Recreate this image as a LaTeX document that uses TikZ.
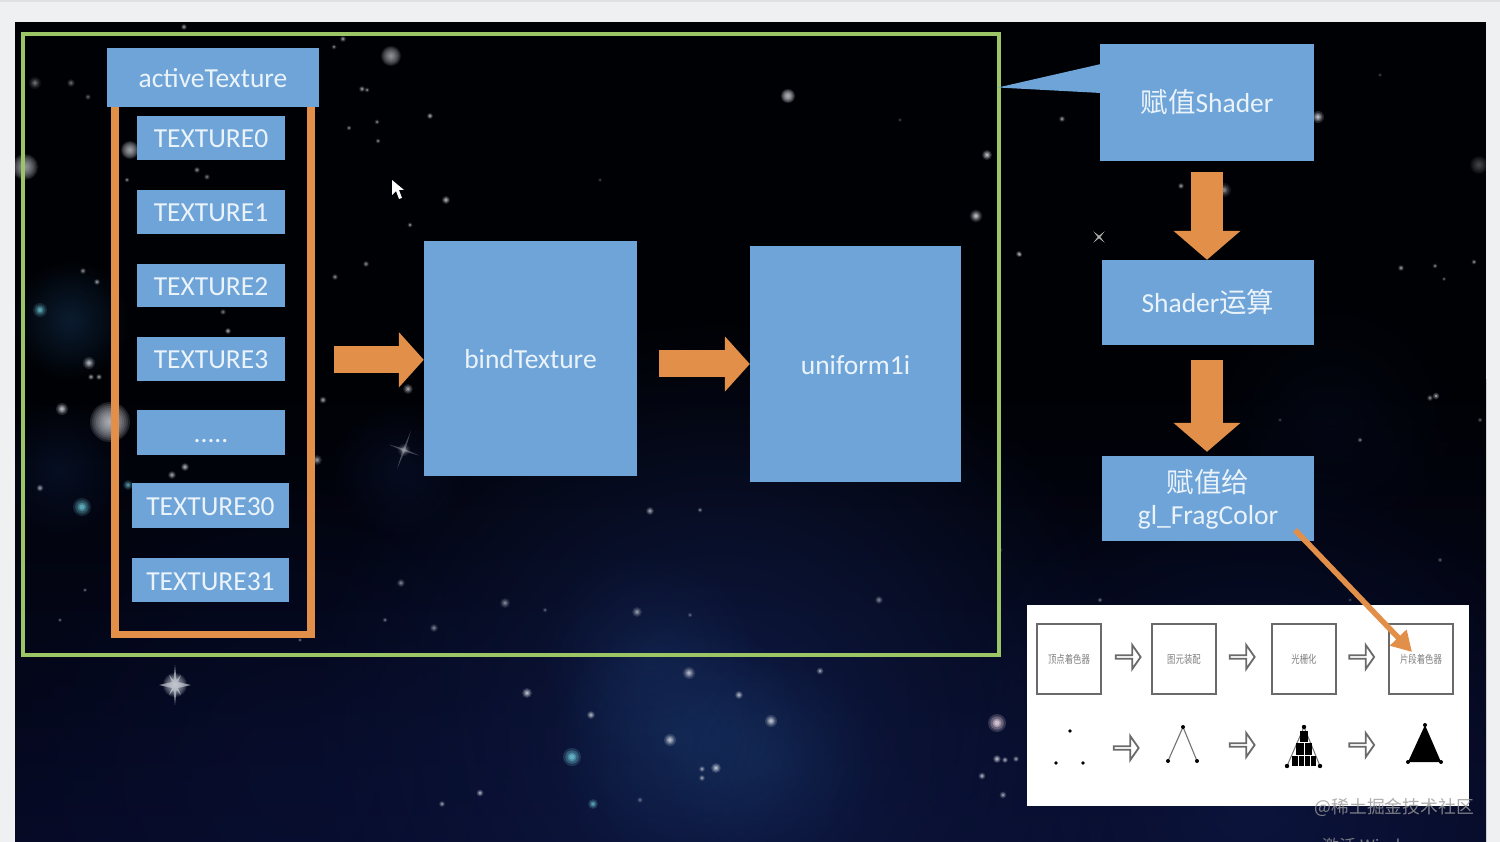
\documentclass[tikz,border=0pt]{standalone}
\usepackage{fontspec}
\setmainfont{Carlito}
\newfontfamily\cjk{Noto Sans CJK SC}
\usetikzlibrary{arrows.meta,shapes.arrows,fadings,calc}
\definecolor{boxblue}{HTML}{6FA4D8}
\definecolor{orangeA}{HTML}{E28F4A}
\definecolor{frameG}{HTML}{9CC665}
\definecolor{pagebg}{HTML}{EEF0F1}
\definecolor{txtW}{HTML}{EAF3FA}
\definecolor{spaceA}{HTML}{000104}
\definecolor{spaceB}{HTML}{060A26}
\definecolor{graybox}{HTML}{6A6A6A}
\definecolor{teal}{HTML}{6FC8D8}
\definecolor{pinkS}{HTML}{F0D8E8}
\definecolor{greyS}{HTML}{D8DCE4}
\tikzfading[name=softcirc,inner color=transparent!0,outer color=transparent!100]
\tikzset{
  bluebox/.style={fill=boxblue,draw=none,text=txtW,inner sep=0pt,align=center,font=\fontsize{27.5}{33}\selectfont},
  onebox/.style={bluebox,text height=20pt,text depth=0pt},
  fatH/.style={draw=orangeA,line width=27pt,-{Triangle[length=25pt,width=54pt]}},
  fatV/.style={draw=orangeA,line width=32pt,-{Triangle[length=29pt,width=65.5pt]}},
  smallbox/.style={draw=graybox,line width=1.7pt,fill=white,minimum width=64pt,minimum height=70pt,inner sep=0pt,text=black!50,font=\cjk\fontsize{10.5}{12}\selectfont},
  hollow/.style={single arrow,draw=graybox,fill=white,line width=1.8pt,minimum height=25pt,minimum width=24pt,single arrow head extend=5pt,inner sep=0pt,single arrow head indent=0pt,single arrow tip angle=110},
  glow/.style={path fading=softcirc},
}
\newcommand{\boxat}[6]{\node[#1,minimum width=#4pt-#2pt,minimum height=#5pt-#3pt] (#6) at ({(#2+#4)/2},{(#3+#5)/2})}
\newcommand{\smalltxt}[2]{\raisebox{-1.5pt}{\scalebox{#1}[1.05]{#2}}}
\newcommand{\softstar}[5]{%
  \pgfmathsetmacro{\oa}{0.18*#4}\pgfmathsetmacro{\ob}{0.28*#4}\pgfmathsetmacro{\oc}{0.4*#4}\pgfmathsetmacro{\od}{0.6*#4}%
  \fill[#5,opacity=\oa] (#1,#2) circle (#3);
  \fill[#5,opacity=\ob] (#1,#2) circle (0.75*#3);
  \fill[#5,opacity=\oc] (#1,#2) circle (0.5*#3);
  \fill[#5,opacity=\od] (#1,#2) circle (0.3*#3);}
\newcommand{\blurstar}[4]{%
  \pgfmathsetmacro{\ok}{0.1*#4}%
  \foreach \k in {1,...,10}{\fill[greyS,opacity=\ok] (#1,#2) circle (#3*\k/10);}}
\begin{document}
\begin{tikzpicture}[x=1pt,y=-1pt]
\useasboundingbox (0,0) rectangle (1500,842);
\fill[pagebg] (0,0) rectangle (1500,842);
\fill[black!12] (0,0) rectangle (1500,2);
% space background
\begin{scope}
\clip (15,22) rectangle (1486,842);
\fill[spaceA] (15,22) rectangle (1486,842);
\shade[top color=spaceA,bottom color=spaceB] (15,380) rectangle (1486,842);
\foreach \x/\y/\r/\c/\o in {
  720/730/420/16265E/.6, 1250/800/340/101B4C/.6, 300/780/300/0C1540/.4,
  680/740/130/1E4C7C/.28, 770/760/110/1E4C7C/.22, 650/660/110/1C3A70/.25,
  70/320/60/1B4470/.4, 60/470/70/10244E/.35, 400/470/70/0E1A40/.4, 1330/420/130/0A1230/.3}{
  \definecolor{tmpc}{HTML}{\c}
  \fill[tmpc,opacity=\o,glow] (\x,\y) circle (\r);
}
% blurred stars
\blurstar{110}{422}{20}{1.4}
\blurstar{25}{167}{13}{1.1}
\blurstar{391}{56}{10}{1.0}
\blurstar{130}{150}{9}{1.2}
\blurstar{788}{96}{7}{1.5}
\blurstar{1479}{165}{9}{.4}
% soft stars
\foreach \x/\y/\r/\o in {987/155/5/.9,976/216/6/.9,
  1318/117/6/.9,62/409/6/.9,89/363/6/.8,91/377/3/.7,99/377/3/.7,
  1224/190/7/.5,1181/186/3/.7,1062/119/3/.7,1019/254/3/.8,1401/268/3/.7,1435/266/2.5/.6,1474/262/2.5/.7,1444/279/2/.5,
  430/116/3/.8,446/200/4/.8,650/511/4/.7,1436/396/3.5/.7,1430/398/3/.6,
  408/389/5/.7,323/400/3.5/.7,317/460/5/.6,185/467/4/.8,172/475/4/.7,40/488/3.5/.7,
  223/312/3/.5,228/331/3/.8,83/271/3/.6,97/282/3/.7,366/264/3/.6,335/277/3/.6,
  184/27/3/.7,343/39/3/.7,334/47/2.5/.6,362/89/3/.7,367/90/2.5/.6,377/122/2.5/.6,349/128/2.5/.6,378/141/2.5/.6,410/225/2.5/.7,
  35/83/6/.4,71/83/4/.4,88/97/3/.4,197/170/3/.6,207/177/3/.5,127/180/2.5/.6,
  527/693/5/.9,689/673/6/.8,739/695/4/.8,591/715/4/.8,771/721/6/.9,670/740/6/.9,716/768/5/.9,702/769/3/.7,702/778/3/.7,
  997/759/4/.9,1005/760/3/.8,1016/759/3/.7,982/776/3.5/.8,1003/795/3.5/.7,480/793/3.5/.8,442/804/3/.7,
  434/628/4/.5,401/583/4/.5,505/603/5/.5,637/612/5/.6,820/671/3.5/.7,879/600/4/.5,
  700/510/2.5/.6,545/610/2.5/.4,690/615/2.5/.4,1000/550/2.5/.5,385/620/2.5/.5,
  600/180/2/.3,900/120/2/.3,1380/75/2/.3,1360/440/2.5/.6,1440/560/2.5/.4,1480/420/2.5/.4,1020/255/2/.4,
  1100/600/2.5/.5,1350/600/2/.3,1280/420/2/.3,640/800/3/.4,300/640/2/.5,250/655/2/.4,60/620/2/.5,85/590/2/.5}{
  \softstar{\x}{\y}{\r}{\o}{greyS}
}
\softstar{40}{310}{7}{.8}{teal}
\softstar{82}{507}{9}{.9}{teal}
\softstar{128}{485}{5}{.7}{teal}
\softstar{572}{757}{9}{1}{teal}
\softstar{593}{804}{5}{.8}{teal}
\softstar{997}{723}{9}{1}{pinkS}
% sparkle stars
\blurstar{175}{685}{12}{1.3}
\fill[greyS,opacity=.6] (175,665)--(176.5,680)--(181,675)--(178,682)--(191,685)--(178,688)--(181,695)--(176.5,690)--(175,705)--(173.5,690)--(169,695)--(172,688)--(159,685)--(172,682)--(169,675)--(173.5,680)--cycle;
\begin{scope}[rotate around={-20:(404,450)}]
\fill[greyS,opacity=.3] (404,430)--(405.2,448.8)--(420,450)--(405.2,451.2)--(404,470)--(402.8,451.2)--(388,450)--(402.8,448.8)--cycle;
\end{scope}
\softstar{404}{450}{6}{.5}{greyS}
\begin{scope}[rotate around={45:(1099,237)}]
\fill[white,opacity=.7] (1099,229)--(1099.9,236.1)--(1107,237)--(1099.9,237.9)--(1099,245)--(1098.1,237.9)--(1091,237)--(1098.1,236.1)--cycle;
\end{scope}
\end{scope}
% cursor
\fill[white] (392,180)--(392,195)--(396,191)--(399,199)--(402,198)--(399,190)--(404,190)--cycle;
% green frame
\node[draw=frameG,line width=4pt,minimum width=976pt,minimum height=621pt,inner sep=0pt] (frame) at (511,344.5) {};
% orange group frame
\node[draw=orangeA,line width=7.5pt,minimum width=196pt,minimum height=534.5pt,inner sep=0pt] (group) at (213,367.25) {};
% left column
\boxat{onebox}{107}{48}{319}{107}{active} {activeTexture};
\boxat{onebox}{137}{116}{285}{160}{t0} {TEXTURE0};
\boxat{onebox}{137}{190}{285}{234}{t1} {TEXTURE1};
\boxat{onebox}{137}{264}{285}{307}{t2} {TEXTURE2};
\boxat{onebox}{137}{337}{285}{381}{t3} {TEXTURE3};
\boxat{onebox}{137}{410}{285}{455}{tdots} {.....};
\boxat{onebox}{132}{483}{289}{528}{t30} {TEXTURE30};
\boxat{onebox}{132}{558}{289}{602}{t31} {TEXTURE31};
% center
\boxat{onebox}{424}{241}{637}{476}{bind} {bindTexture};
\boxat{onebox}{750}{246}{961}{482}{uni} {uniform1i};
% right column
\boxat{onebox}{1100}{44}{1314}{161}{assign} {{\cjk 赋值}Shader};
\fill[boxblue] (1101,64) -- (998,87.5) -- (1101,93) -- cycle;
\boxat{onebox}{1102}{260}{1314}{345}{calc} {Shader{\cjk 运算}};
\boxat{bluebox}{1102}{456}{1314}{541}{frag} {\rule{0pt}{24pt}{\cjk 赋值给}\\[-1pt]gl\_FragColor};
% fat arrows
\coordinate (bindIn) at ($(bind.west)+(0,1.3)$);
\draw[fatH,shorten <=19pt] (group.east |- bindIn) -- (bindIn);
\draw[fatH,shorten <=22pt] (bind.east |- uni.west) -- (uni.west);
\draw[fatV,shorten <=11pt] (assign.south) -- (assign.south |- calc.north);
\draw[fatV,shorten <=15pt,shorten >=4pt] (assign.south |- calc.south) -- (assign.south |- frag.north);
% pipeline panel
\node[fill=white,minimum width=442pt,minimum height=201pt,inner sep=0pt] (panel) at (1248,705.5) {};
\node[smallbox] (p1) at (1069,659) {\smalltxt{.8}{顶点着色器}};
\node[smallbox] (p2) at (1184,659) {\smalltxt{.8}{图元装配}};
\node[smallbox] (p3) at (1304,659) {\smalltxt{.8}{光栅化}};
\node[smallbox] (p4) at (1421,659) {\smalltxt{.8}{片段着色器}};
\node[hollow] (a1) at (1127.5,657) {};
\node[hollow] (a2) at (1241.5,657) {};
\node[hollow] (a3) at (1361,657) {};
\node[hollow] (b1) at (1125.5,748) {};
\node[hollow] (b2) at (1241.5,745) {};
\node[hollow] (b3) at (1361,745) {};
% row two: dots
\foreach \n/\x/\y in {d1/1070/731,d2/1056/763,d3/1083/763}{\fill[black] (\x,\y) circle (1.8);}
% lines
\coordinate (l1) at (1183,727); \coordinate (l2) at (1168,761); \coordinate (l3) at (1197,761);
\draw[black!55,line width=1.1pt] (l2) -- (l1) -- (l3);
\foreach \c in {l1,l2,l3}{\fill[black] (\c) circle (2);}
% raster
\coordinate (r1) at (1304,727); \coordinate (r2) at (1287,766); \coordinate (r3) at (1320,766);
\draw[black!55,line width=1pt] (r2) -- (r1) -- (r3);
\fill[black] (1300,731) rectangle (1308,742);
\fill[black] (1296,743) rectangle (1312,755);
\fill[black] (1292,756) rectangle (1316,766);
\draw[white,line width=.6pt] (1304,743)--(1304,755) (1298,756)--(1298,766) (1304,756)--(1304,766) (1310,756)--(1310,766);
\foreach \c in {r1,r2,r3}{\fill[black] (\c) circle (2.2);}
% filled
\coordinate (f1) at (1425,725); \coordinate (f2) at (1408,762); \coordinate (f3) at (1441,762);
\fill[black] (f1) -- (f2) -- (f3) -- cycle;
\foreach \c in {f1,f2,f3}{\fill[black] (\c) circle (2);}
% thin arrow
\coordinate (tailStart) at (1295,530);
\coordinate (tipEnd) at (1412,652);
\draw[orangeA,line width=5.5pt,-{Triangle[length=20pt,width=22pt]}] (tailStart) -- (tipEnd);
% watermark
\node[text=black!40,opacity=.8,font=\cjk\fontsize{17.8}{20}\selectfont,inner sep=0pt,anchor=east] (wm) at (1474,807) {@稀土掘金技术社区};
\begin{scope}
\clip (1300,820) rectangle (1480,842);
\node[text=black!35,opacity=.7,font=\cjk\fontsize{17}{20}\selectfont,inner sep=0pt,anchor=west] (act) at (1322,846) {激活 Windows};
\end{scope}
\end{tikzpicture}
\end{document}
